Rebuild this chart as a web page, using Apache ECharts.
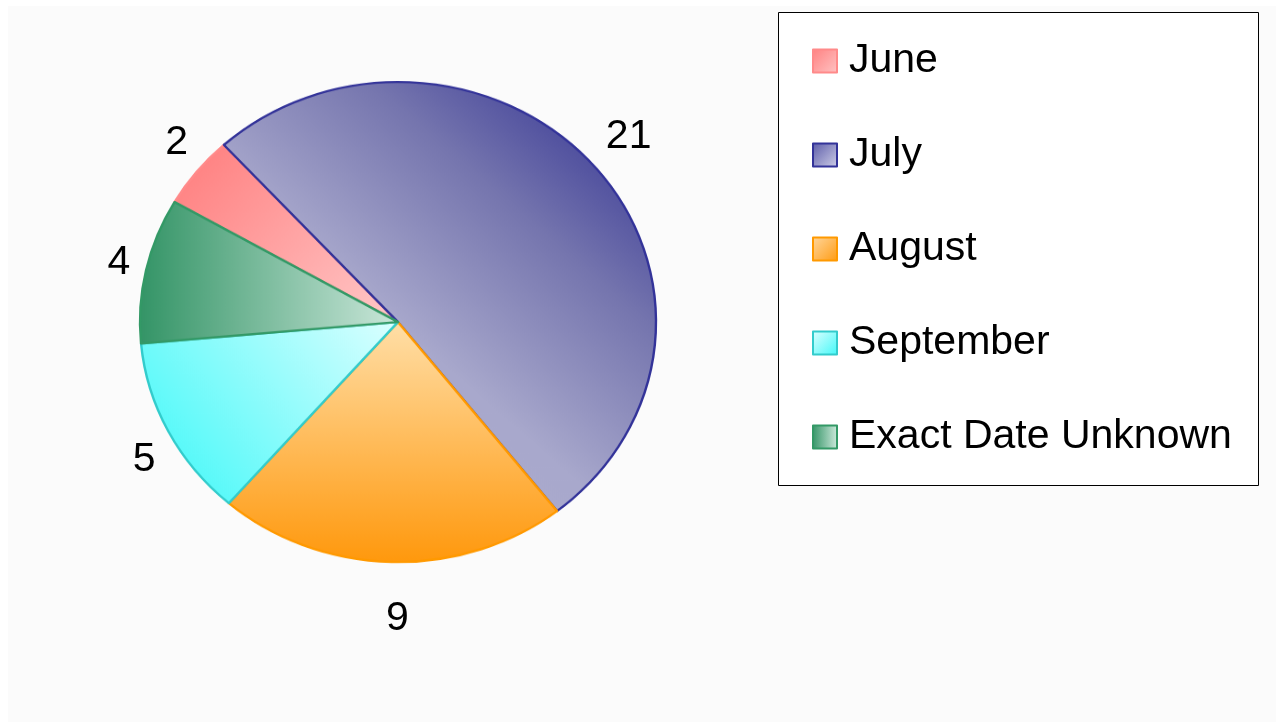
<!DOCTYPE html>
<html>
<head>
<meta charset="utf-8">
<script src="https://cdn.jsdelivr.net/npm/echarts@6/dist/echarts.min.js"></script>
<style>
html,body{margin:0;padding:0;background:#ffffff;overflow:hidden;}
#wrap{position:relative;width:1284px;height:722px;overflow:hidden;}
#bg{position:absolute;left:8px;top:6px;width:1268px;height:716px;background:#fbfbfb;}
#pieA{position:absolute;left:0;top:0;width:1284px;transform-origin:0 0;}
#chartB{position:absolute;left:0;top:0;width:1284px;height:722px;}
</style>
</head>
<body>
<div id="wrap">
  <div id="bg"></div>
  <div id="pieA"></div>
  <div id="chartB"></div>
</div>
<script>
// ---- data ----
const categories = ['June', 'July', 'August', 'September', 'Exact Date Unknown'];
const values = [2, 21, 9, 5, 4];

// ---- styles ----
const FONT = '"Liberation Sans", Arial, sans-serif';
const G = echarts.graphic.LinearGradient;
const sliceFills = [
  new G(0, 0, 1, 1, [{offset: 0, color: '#ff7b7b'}, {offset: 1, color: '#ffc9c9'}]),
  new G(0, 1, 1, 0, [{offset: 0, color: '#b0b0d2'}, {offset: 0.42, color: '#a8a8cc'}, {offset: 0.69, color: '#7575ae'}, {offset: 0.86, color: '#4a4a9c'}, {offset: 1, color: '#3a3a94'}]),
  new G(0, 0, 0, 1, [{offset: 0, color: '#ffdfa8'}, {offset: 1, color: '#ff980c'}]),
  new G(1, 0, 0, 1, [{offset: 0, color: '#dcffff'}, {offset: 1, color: '#38f8f8'}]),
  new G(0, 0, 1, 0, [{offset: 0, color: '#339466'}, {offset: 1, color: '#cbe7da'}])
];
const legendFills = [
  new G(0, 0, 1, 1, [{offset: 0, color: '#ff8080'}, {offset: 1, color: '#ffc4c4'}]),
  new G(0, 0, 1, 1, [{offset: 0, color: '#5a5aa8'}, {offset: 1, color: '#d0d0e8'}]),
  new G(0, 0, 1, 1, [{offset: 0, color: '#ffd8a0'}, {offset: 1, color: '#ff9a10'}]),
  new G(0, 0, 1, 1, [{offset: 0, color: '#e0ffff'}, {offset: 1, color: '#40f8f8'}]),
  new G(0, 0, 1, 0, [{offset: 0, color: '#339466'}, {offset: 1, color: '#d0ebde'}])
];
const borders = ['#ff8a8a', '#333399', '#ff9900', '#33cccc', '#339966'];

// ---- geometry (ellipse by vertical scaling of the pie layer) ----
const CX = 398, CY = 322, RX = 258, RY = 240;
const S = RY / RX;
const pieDiv = document.getElementById('pieA');
pieDiv.style.height = (722 / S) + 'px';
pieDiv.style.transform = 'scaleY(' + S + ')';

const chartA = echarts.init(pieDiv, null, {renderer: 'canvas'});
chartA.setOption({
  animation: false,
  series: [{
    type: 'pie',
    center: [CX, CY / S],
    radius: [0, RX],
    startAngle: 150,
    clockwise: true,
    silent: true,
    label: {show: false},
    labelLine: {show: false},
    data: categories.map((n, i) => ({
      name: n, value: values[i],
      itemStyle: {color: sliceFills[i], borderColor: borders[i], borderWidth: 2.4}
    }))
  }]
});

const chartB = echarts.init(document.getElementById('chartB'), null, {renderer: 'canvas'});
chartB.setOption({
  animation: false,
  graphic: [{
    type: 'rect', z: -10,
    shape: {x: 778.5, y: 12.5, width: 480, height: 473},
    style: {fill: '#ffffff', stroke: '#000000', lineWidth: 1}
  }],
  legend: {
    orient: 'vertical',
    left: 812, top: 38,
    padding: 0,
    itemWidth: 24, itemHeight: 23,
    itemGap: 48,
    icon: 'rect',
    selectedMode: false,
    textStyle: {fontSize: 41, lineHeight: 41, fontFamily: FONT, color: '#000000', padding: [0, 0, 5, 7]},
    data: categories.map((n, i) => ({
      name: n,
      itemStyle: {color: legendFills[i], borderColor: borders[i], borderWidth: 2}
    }))
  },
  series: [{
    type: 'pie',
    center: [CX, CY],
    radius: [285, 295],
    startAngle: 150,
    clockwise: true,
    silent: true,
    itemStyle: {color: 'rgba(0,0,0,0)', borderWidth: 0},
    label: {show: true, position: 'inside', formatter: '{c}', fontSize: 41, fontFamily: FONT, color: '#000000', offset: [7, 4]},
    labelLine: {show: false},
    data: categories.map((n, i) => ({name: n, value: values[i]}))
  }]
});
</script>
</body>
</html>
